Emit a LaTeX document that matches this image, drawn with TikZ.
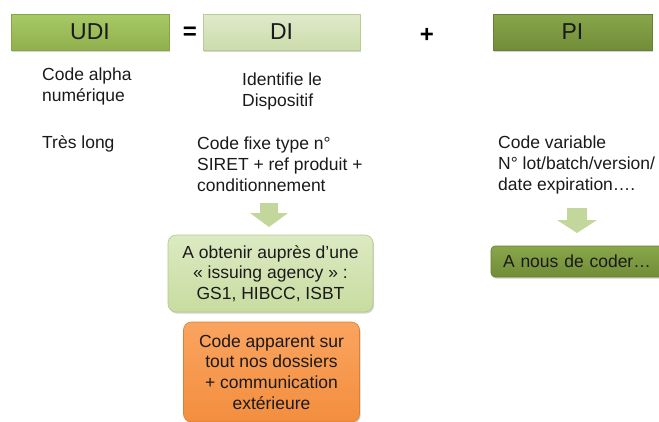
\documentclass[tikz,border=0pt]{standalone}
\usepackage{fontspec}
\setmainfont{Liberation Sans}
\usetikzlibrary{shadows}
\definecolor{udiA}{HTML}{A8C967}
\definecolor{udiB}{HTML}{8FB04C}
\definecolor{udiL}{HTML}{86A545}
\definecolor{diA}{HTML}{DFEACB}
\definecolor{diB}{HTML}{CCDCAB}
\definecolor{diL}{HTML}{B9CC93}
\definecolor{piA}{HTML}{88A64A}
\definecolor{piB}{HTML}{718D38}
\definecolor{piL}{HTML}{667F32}
\definecolor{grA}{HTML}{DCEAC2}
\definecolor{grB}{HTML}{C8DCA0}
\definecolor{grL}{HTML}{B4C98C}
\definecolor{orA}{HTML}{FAA460}
\definecolor{orB}{HTML}{F38E3E}
\definecolor{orL}{HTML}{DC7F36}
\definecolor{arr}{HTML}{C3D69B}
\definecolor{txt}{HTML}{1A1A1A}
\tikzset{
  shd/.style={drop shadow={opacity=0.35,shadow xshift=1pt,shadow yshift=-1.5pt}},
  hdrbox/.style={draw,line width=0.6pt,minimum height=36pt,minimum width=158pt,inner sep=0pt,
    font=\fontsize{23}{26}\selectfont,text=txt,shd},
  lbl/.style={anchor=base west,inner sep=0pt,align=left,text=txt,
    font=\fontsize{17.5}{21}\selectfont},
  rbox/.style={rounded corners=8pt,draw,line width=0.6pt,inner sep=0pt,align=center,text=txt,
    font=\fontsize{17.5}{20.6}\selectfont,shd},
  blockarrow/.style={fill=arr,draw=none},
  sym/.style={inner sep=0pt,font=\fontsize{24}{26}\bfseries\selectfont,text=black}
}
\begin{document}
\begin{tikzpicture}[x=1pt,y=-1pt]
\useasboundingbox (0,0) rectangle (659,421);
% header boxes
\node[hdrbox,top color=udiA,bottom color=udiB,draw=udiL] (udi) at (90,32) {UDI};
\node[hdrbox,top color=diA,bottom color=diB,draw=diL,minimum width=157pt] (di) at (281.5,32) {DI};
\node[hdrbox,top color=piA,bottom color=piB,draw=piL,minimum width=159pt] (pi) at (572.5,32) {PI};
\node[sym] (eq) at (190,33) {=};
\node[sym] (plus) at (427,35) {+};
% texts (anchor at baseline of last line)
\node[lbl] (t1) at (42,101) {Code alpha\\numérique};
\node[lbl] (t2) at (242,106) {Identifie le\\Dispositif};
\node[lbl] (t3) at (42,148) {Très long};
\node[lbl] (t4) at (197,191) {Code fixe type n°\\SIRET + ref produit +\\conditionnement};
\node[lbl] (t5) at (498,190) {Code variable\\N° lot/batch/version/\\date expiration….};
% block arrows
\coordinate (a1) at (269,203);
\fill[blockarrow] (a1) ++(-9,0) -- ++(18,0) -- ++(0,10) -- ++(10,0) -- ++(-19,14) -- ++(-19,-14) -- ++(10,0) -- cycle;
\coordinate (a2) at (577,208);
\fill[blockarrow] (a2) ++(-10,0) -- ++(20,0) -- ++(0,12) -- ++(10,0) -- ++(-20,13) -- ++(-20,-13) -- ++(10,0) -- cycle;
% rounded boxes
\node[rbox,top color=grA,bottom color=grB,draw=grL,minimum width=205pt,minimum height=77pt] (ag) at (270.5,273.5)
  {A obtenir auprès d’une\\« issuing agency » :\\GS1, HIBCC, ISBT};
\node[rbox,top color=orA,bottom color=orB,draw=orL,minimum width=176pt,minimum height=100pt] (or) at (271.5,372)
  {Code apparent sur\\tout nos dossiers\\+ communication\\extérieure};
\node[rbox,rounded corners=4pt,top color=piA,bottom color=piB,draw=piL,minimum width=175pt,minimum height=31pt,
  text width=175pt,align=left] (co) at (578.5,261.5) {\hspace*{12pt}A nous de coder…};
\end{tikzpicture}
\end{document}
